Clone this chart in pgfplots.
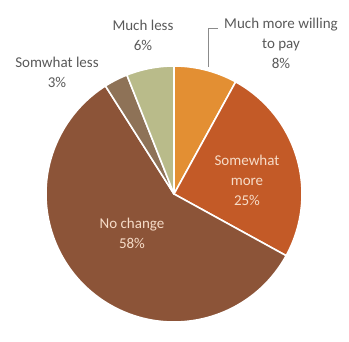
\documentclass[border=0pt]{standalone}
\usepackage{pgfplots}
\usepackage{pgfplotstable}
\pgfplotsset{compat=1.18}
\usepackage{fontspec}
\setmainfont{Carlito}
\definecolor{cA}{HTML}{E38F33}
\definecolor{cB}{HTML}{C35A27}
\definecolor{cC}{HTML}{8C5438}
\definecolor{cD}{HTML}{8E7257}
\definecolor{cE}{HTML}{B9BB8A}
\definecolor{lbl}{HTML}{595959}
\definecolor{inlbl}{HTML}{F6DCC8}
\pgfplotstableread{
value color
8  cA
25 cB
58 cC
3  cD
6  cE
}\piedata
\begin{document}
\begin{tikzpicture}
\begin{axis}[hide axis, scale only axis, width=349pt, height=326pt,
  xmin=0, xmax=349, ymin=0, ymax=326, clip=false]
\path (axis cs:0,0) rectangle (axis cs:349,326);
\def\cx{174}\def\cy{132}\def\r{128}
\def\cum{0}
\pgfplotsforeachungrouped \i in {0,...,4}{%
  \pgfplotstablegetelem{\i}{value}\of\piedata
  \pgfmathsetmacro{\angA}{90-3.6*\cum}%
  \pgfmathsetmacro{\cum}{\cum+\pgfplotsretval}%
  \pgfmathsetmacro{\angB}{90-3.6*\cum}%
  \pgfmathsetmacro{\xA}{\cx+\r*cos(\angA)}%
  \pgfmathsetmacro{\yA}{\cy+\r*sin(\angA)}%
  \pgfplotstablegetelem{\i}{color}\of\piedata
  \edef\slice{\noexpand\filldraw[fill=\pgfplotsretval, draw=white, line width=1.6pt, line join=round] (axis cs:\cx,\cy) -- (axis cs:\xA,\yA) arc[start angle=\angA, end angle=\angB, radius=\r] -- cycle;}%
  \slice
}
\draw[lbl!70, line width=0.6pt] (axis cs:208,259) -- (axis cs:208,298) -- (axis cs:218,298);
\begin{scope}[every node/.style={align=center, font=\fontsize{15}{20}\selectfont}]
\node[text=lbl] at (axis cs:281,283) {Much more willing\\to pay\\8\%};
\node[text=lbl] at (axis cs:143,291) {Much less\\6\%};
\node[text=lbl] at (axis cs:57,254) {Somwhat less\\3\%};
\node[text=inlbl] at (axis cs:247,146) {Somewhat\\more\\25\%};
\node[text=inlbl] at (axis cs:132,93) {No change\\58\%};
\end{scope}
\end{axis}
\end{tikzpicture}
\end{document}
